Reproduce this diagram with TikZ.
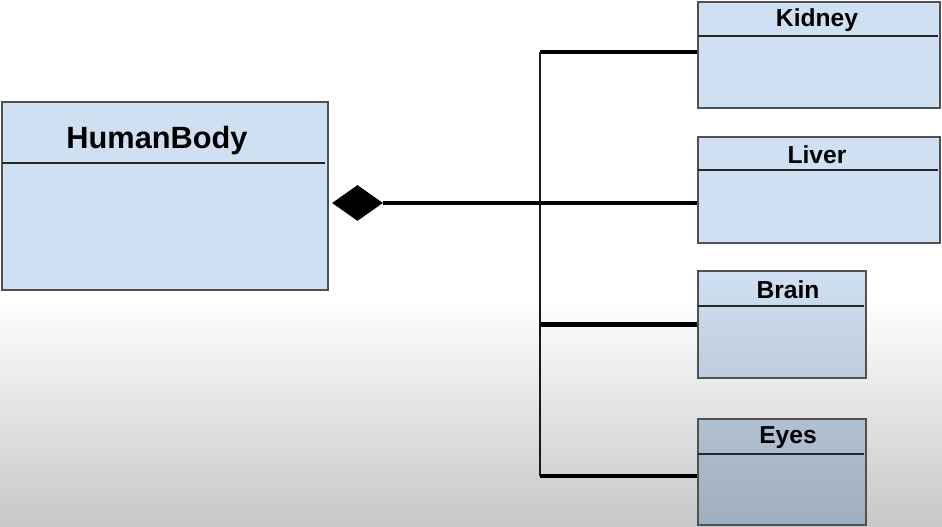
\documentclass[tikz,border=0pt]{standalone}
\usepackage{fontspec}
\setmainfont{Liberation Sans}
\usetikzlibrary{shapes.geometric}

\definecolor{boxblue}{RGB}{207,224,242}
\definecolor{boxmid}{RGB}{190,205,221}
\definecolor{boxdark}{RGB}{178,193,209}
\definecolor{boxdeep}{RGB}{158,174,190}
\definecolor{edge}{RGB}{80,80,85}

\tikzset{
    classbox/.style={draw=edge, line width=0.9pt, rectangle, inner sep=0pt},
    classname/.style={font=\bfseries\fontsize{14}{16}\selectfont, inner sep=0pt},
    divider/.style={line width=0.8pt, draw=black!85},
    conn/.style={line width=2.4pt, black},
    spineline/.style={line width=1.1pt, black!90}
}

\begin{document}
\begin{tikzpicture}
    % background
    \useasboundingbox (0,0) rectangle (18.84,10.54);
    \fill[white] (0,4.6) rectangle (18.84,10.54);
    \shade[top color=white, bottom color=black!22] (0,0) rectangle (18.84,4.6);

    % whole class
    \node[classbox, fill=boxblue, minimum width=6.52cm, minimum height=3.76cm] (body) at (3.30,6.62) {};
    \node[classname, font=\bfseries\fontsize{17.5}{20}\selectfont] (bodyname) at (3.14,7.73) {HumanBody};
    \draw[divider] (0.04,7.28) -- (6.5,7.28);

    % part classes
    \node[classbox, fill=boxblue, minimum width=4.84cm, minimum height=2.12cm] (kidney) at (16.38,9.44) {};
    \node[classname] (kidneyname) at (16.34,10.13) {Kidney};
    \draw[divider] (13.96,9.82) -- (18.76,9.82);

    \node[classbox, fill=boxblue, minimum width=4.84cm, minimum height=2.12cm] (liver) at (16.38,6.74) {};
    \node[classname] (livername) at (16.34,7.45) {Liver};
    \draw[divider] (13.96,7.14) -- (18.76,7.14);

    \node[classbox, top color=boxblue, bottom color=boxmid, minimum width=3.36cm, minimum height=2.14cm] (brain) at (15.64,4.05) {};
    \node[classname] (brainname) at (15.76,4.75) {Brain};
    \draw[divider] (13.96,4.42) -- (17.28,4.42);

    \node[classbox, top color=boxdark, bottom color=boxdeep, minimum width=3.36cm, minimum height=2.12cm] (eyes) at (15.64,1.10) {};
    \node[classname] (eyesname) at (15.76,1.79) {Eyes};
    \draw[divider] (13.96,1.46) -- (17.28,1.46);

    % composition
    \node[diamond, fill=black, inner sep=0pt, minimum width=1.02cm, minimum height=0.72cm] (comp) at (7.15,6.48) {};
    \coordinate (spine) at (10.8,0);
    \coordinate (spinetop) at (10.8,9.5);
    \coordinate (spinebot) at (10.8,1.02);
    \draw[conn] (comp.east) -- (comp.east -| liver.west);
    \draw[spineline] (spinetop) -- (spinebot);
    \draw[conn] (spinetop) -- (spinetop -| kidney.west);
    \draw[conn] (brain.west -| spine) -- (brain.west);
    \draw[conn] (spinebot) -- (spinebot -| eyes.west);
\end{tikzpicture}
\end{document}
